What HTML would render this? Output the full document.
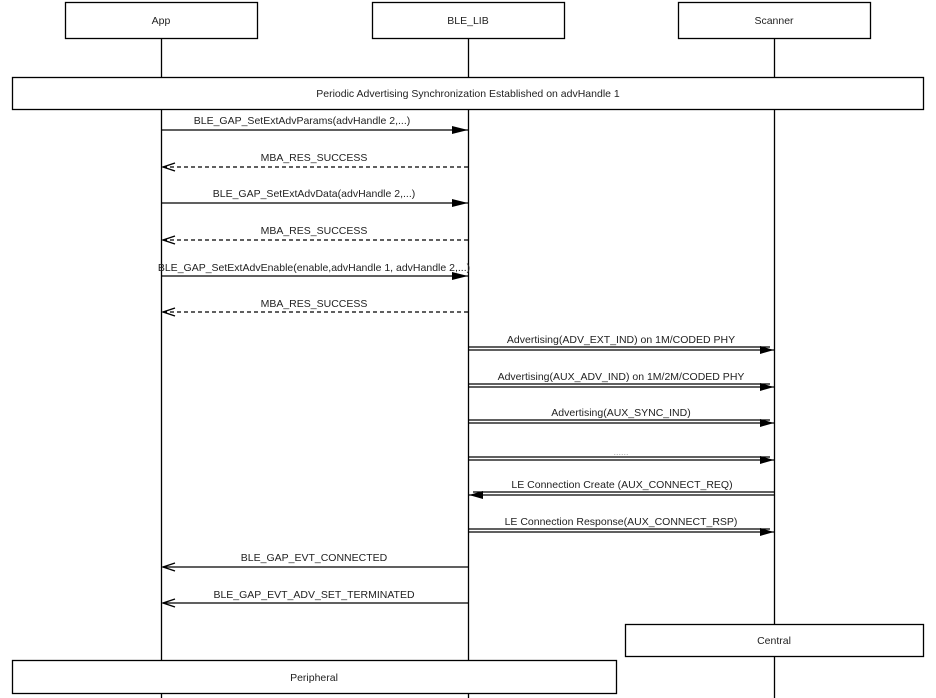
<!DOCTYPE html>
<html><head><meta charset="utf-8"><style>
html,body{margin:0;padding:0;background:#fff;}
svg{display:block;}
text{font-family:"Liberation Sans",Arial,sans-serif;font-size:10.5px;fill:#222;text-anchor:middle;}
</style></head><body>
<svg width="936" height="698" viewBox="0 0 936 698" xmlns="http://www.w3.org/2000/svg">
<defs>
<marker id="fa" markerWidth="16" markerHeight="10" refX="16" refY="5" orient="auto" markerUnits="userSpaceOnUse"><path d="M0,1 L16,5 L0,9 Z" fill="#000"/></marker>
<marker id="fb" markerWidth="14" markerHeight="10" refX="14" refY="5" orient="auto" markerUnits="userSpaceOnUse"><path d="M0,1 L14,5 L0,9 Z" fill="#000"/></marker>
<marker id="oa" markerWidth="14" markerHeight="10" refX="13" refY="5" orient="auto" markerUnits="userSpaceOnUse"><path d="M1,1 L13,5 L1,9" fill="none" stroke="#000" stroke-width="1.4"/></marker>
</defs>
<g stroke="#000" fill="none">
<line x1="161.5" y1="39" x2="161.5" y2="698" stroke-width="1.3"/>
<line x1="468.5" y1="39" x2="468.5" y2="698" stroke-width="1.3"/>
<line x1="774.5" y1="39" x2="774.5" y2="698" stroke-width="1.3"/>
</g>
<g stroke="#000" fill="#fff" stroke-width="1.3">
<rect x="65.5" y="2.5" width="192" height="36"/>
<rect x="372.5" y="2.5" width="192" height="36"/>
<rect x="678.5" y="2.5" width="192" height="36"/>
<rect x="12.5" y="77.5" width="911" height="32"/>
<rect x="625.5" y="624.5" width="298" height="32"/>
<rect x="12.5" y="660.5" width="604" height="33"/>
</g>
<text x="161" y="24">App</text>
<text x="468" y="24">BLE_LIB</text>
<text x="774" y="24">Scanner</text>
<text x="468" y="97">Periodic Advertising Synchronization Established on advHandle 1</text>
<text x="774" y="644">Central</text>
<text x="314" y="681">Peripheral</text>

<g stroke="#000" stroke-width="1.3" fill="none">
<line x1="162" y1="130" x2="468" y2="130" marker-end="url(#fa)"/>
<line x1="468" y1="167" x2="163" y2="167" stroke-dasharray="4,3" marker-end="url(#oa)"/>
<line x1="162" y1="203" x2="468" y2="203" marker-end="url(#fa)"/>
<line x1="468" y1="240" x2="163" y2="240" stroke-dasharray="4,3" marker-end="url(#oa)"/>
<line x1="162" y1="276" x2="468" y2="276" marker-end="url(#fa)"/>
<line x1="468" y1="312" x2="163" y2="312" stroke-dasharray="4,3" marker-end="url(#oa)"/>
<line x1="468" y1="567" x2="163" y2="567" marker-end="url(#oa)"/>
<line x1="468" y1="603" x2="163" y2="603" marker-end="url(#oa)"/>
</g>
<g stroke="#000" stroke-width="1.2" fill="none">
<line x1="469" y1="347" x2="770" y2="347"/><line x1="469" y1="350" x2="774" y2="350" marker-end="url(#fb)"/>
<line x1="469" y1="384" x2="770" y2="384"/><line x1="469" y1="387" x2="774" y2="387" marker-end="url(#fb)"/>
<line x1="469" y1="420" x2="770" y2="420"/><line x1="469" y1="423" x2="774" y2="423" marker-end="url(#fb)"/>
<line x1="469" y1="457" x2="770" y2="457"/><line x1="469" y1="460" x2="774" y2="460" marker-end="url(#fb)"/>
<line x1="774" y1="492" x2="473" y2="492"/><line x1="774" y1="495" x2="469" y2="495" marker-end="url(#fb)"/>
<line x1="469" y1="529" x2="770" y2="529"/><line x1="469" y1="532" x2="774" y2="532" marker-end="url(#fb)"/>
</g>
<g>
<rect x="196" y="114" width="212" height="12" fill="#fff"/>
<rect x="494" y="332" width="256" height="13" fill="#fff"/>
<rect x="484" y="369" width="274" height="13" fill="#fff"/>
<rect x="543" y="405" width="156" height="13" fill="#fff"/>
<rect x="500" y="477" width="244" height="13" fill="#fff"/>
<rect x="492" y="514" width="256" height="13" fill="#fff"/>
</g>
<text x="302" y="124">BLE_GAP_SetExtAdvParams(advHandle 2,...)</text>
<text x="314" y="161">MBA_RES_SUCCESS</text>
<text x="314" y="197">BLE_GAP_SetExtAdvData(advHandle 2,...)</text>
<text x="314" y="234">MBA_RES_SUCCESS</text>
<text x="314" y="271">BLE_GAP_SetExtAdvEnable(enable,advHandle 1, advHandle 2,...)</text>
<text x="314" y="307">MBA_RES_SUCCESS</text>
<text x="621" y="343">Advertising(ADV_EXT_IND) on 1M/CODED PHY</text>
<text x="621" y="380">Advertising(AUX_ADV_IND) on 1M/2M/CODED PHY</text>
<text x="621" y="416">Advertising(AUX_SYNC_IND)</text>
<text x="621" y="455" style="fill:#aaa;font-size:9px">......</text>
<text x="622" y="488">LE Connection Create (AUX_CONNECT_REQ)</text>
<text x="621" y="525">LE Connection Response(AUX_CONNECT_RSP)</text>
<text x="314" y="561">BLE_GAP_EVT_CONNECTED</text>
<text x="314" y="598">BLE_GAP_EVT_ADV_SET_TERMINATED</text>
</svg>
</body></html>
